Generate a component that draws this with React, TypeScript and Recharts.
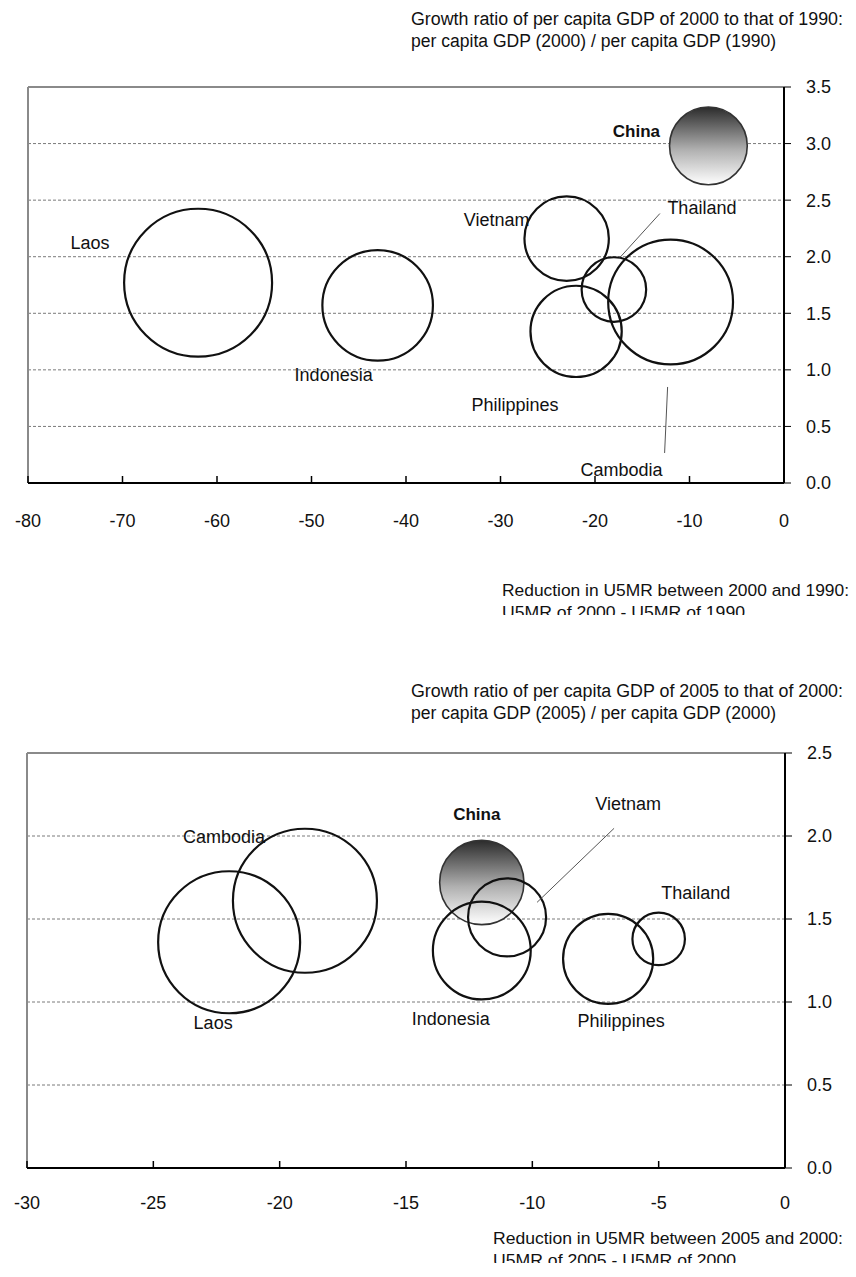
import React from 'react';
import {
  ScatterChart,
  Scatter,
  XAxis,
  YAxis,
  ZAxis,
  CartesianGrid,
  ReferenceLine,
} from 'recharts';

const FONT = "Arial, 'Liberation Sans', sans-serif";

const countries = ['China', 'Laos', 'Indonesia', 'Vietnam', 'Thailand', 'Cambodia', 'Philippines'];

// 1990 -> 2000
const u5mrChange90 = [-8, -62, -43, -23, -18, -12, -22];
const gdpRatio90 = [2.98, 1.77, 1.57, 2.16, 1.71, 1.6, 1.34];
const bubbleSize90 = [45, 163, 91, 53, 31, 116, 62];

// 2000 -> 2005
const u5mrChange00 = [-12, -22, -12, -11, -5, -19, -7];
const gdpRatio00 = [1.72, 1.36, 1.31, 1.51, 1.38, 1.61, 1.26];
const bubbleSize00 = [49, 139, 66, 42, 19, 143, 56];

const xTicks90 = [-80, -70, -60, -50, -40, -30, -20, -10, 0];
const yTicks90 = [0, 0.5, 1, 1.5, 2, 2.5, 3, 3.5];
const xTicks00 = [-30, -25, -20, -15, -10, -5, 0];
const yTicks00 = [0, 0.5, 1, 1.5, 2, 2.5];

const toPoints = (xs: number[], ys: number[], zs: number[]) =>
  countries.map((name, i) => ({ name, x: xs[i], y: ys[i], z: zs[i] }));

const data90 = toPoints(u5mrChange90, gdpRatio90, bubbleSize90);
const data00 = toPoints(u5mrChange00, gdpRatio00, bubbleSize00);

type Spot = { dx: number; dy: number; line?: [number, number, number, number] };

// label placement relative to bubble centre (px)
const spots90: Record<string, Spot> = {
  China: { dx: -72, dy: -14 },
  Laos: { dx: -108, dy: -40 },
  Indonesia: { dx: -44, dy: 70 },
  Vietnam: { dx: -70, dy: -19 },
  Thailand: { dx: 88, dy: -82, line: [46, -76, 6, -32] },
  Cambodia: { dx: -49, dy: 168, line: [-3, 85, -6, 151] },
  Philippines: { dx: -61, dy: 74 },
};

const spots00: Record<string, Spot> = {
  China: { dx: -5, dy: -68 },
  Laos: { dx: -16, dy: 81 },
  Indonesia: { dx: -31, dy: 68 },
  Vietnam: { dx: 121, dy: -113, line: [107, -89, 30, -15] },
  Thailand: { dx: 37, dy: -46 },
  Cambodia: { dx: -81, dy: -64 },
  Philippines: { dx: 13, dy: 62 },
};

const makeBubble = (gradId: string) => (props: any) => {
  const { cx, cy, width, payload } = props;
  const r = width / 2;
  if (payload.name === 'China') {
    return (
      <g>
        <defs>
          <linearGradient id={gradId} x1="0" y1="0" x2="0" y2="1">
            <stop offset="0%" stopColor="#2b2b2b" />
            <stop offset="55%" stopColor="#b0b0b0" />
            <stop offset="100%" stopColor="#ffffff" />
          </linearGradient>
        </defs>
        <circle cx={cx} cy={cy} r={r} fill={`url(#${gradId})`} stroke="#333" strokeWidth={1.6} />
      </g>
    );
  }
  return <circle cx={cx} cy={cy} r={r} fill="none" stroke="#111" strokeWidth={2.2} />;
};

const makeLabel = (spots: Record<string, Spot>) => (props: any) => {
  const { cx, cy, payload } = props;
  const s = spots[payload.name];
  const bold = payload.name === 'China';
  return (
    <g>
      {s.line && (
        <line
          x1={cx + s.line[0]}
          y1={cy + s.line[1]}
          x2={cx + s.line[2]}
          y2={cy + s.line[3]}
          stroke="#555"
          strokeWidth={1}
        />
      )}
      <text
        x={cx + s.dx}
        y={cy + s.dy}
        textAnchor="middle"
        dominantBaseline="central"
        fontFamily={FONT}
        fontSize={bold ? 17 : 18}
        fontWeight={bold ? 'bold' : 'normal'}
        fill="#111"
      >
        {payload.name}
      </text>
    </g>
  );
};

const makeXTick = (labelDy: number) => (props: any) => {
  const { x, y, payload } = props;
  return (
    <g>
      <line x1={x} y1={y} x2={x} y2={y - 7} stroke="#000" strokeWidth={1.5} />
      <text x={x} y={y + labelDy} textAnchor="middle" fontFamily={FONT} fontSize={18} fill="#111">
        {payload.value}
      </text>
    </g>
  );
};

interface BubblePanelProps {
  data: typeof data90;
  xTicks: number[];
  yTicks: number[];
  height: number;
  margin: { top: number; right: number; bottom: number; left: number };
  yWidth: number;
  zRange: [number, number];
  spots: Record<string, Spot>;
  gradId: string;
  labelDy: number;
}

const BubblePanel = ({
  data,
  xTicks,
  yTicks,
  height,
  margin,
  yWidth,
  zRange,
  spots,
  gradId,
  labelDy,
}: BubblePanelProps) => {
  const xMin = xTicks[0];
  const xMax = xTicks[xTicks.length - 1];
  const yMax = yTicks[yTicks.length - 1];
  return (
    <ScatterChart width={856} height={height} margin={margin}>
      <CartesianGrid vertical={false} strokeDasharray="3 2" stroke="#7a7a7a" />
      <ReferenceLine x={xMin} stroke="#8a8a8a" strokeWidth={2} />
      <ReferenceLine y={yMax} stroke="#8a8a8a" strokeWidth={2} />
      <XAxis
        type="number"
        dataKey="x"
        domain={[xMin, xMax]}
        ticks={xTicks}
        interval={0}
        height={60}
        tickSize={0}
        tickMargin={0}
        tickLine={false}
        axisLine={{ stroke: '#000', strokeWidth: 2 }}
        tick={makeXTick(labelDy)}
      />
      <YAxis
        type="number"
        dataKey="y"
        orientation="right"
        domain={[0, yMax]}
        ticks={yTicks}
        interval={0}
        width={yWidth}
        tickSize={7}
        tickMargin={15}
        tickFormatter={(v: number) => v.toFixed(1)}
        tick={{ fontSize: 18, fill: '#111', fontFamily: FONT }}
        tickLine={{ stroke: '#000' }}
        axisLine={{ stroke: '#000', strokeWidth: 2 }}
      />
      <ZAxis type="number" dataKey="z" domain={[0, 200]} range={zRange} />
      <Scatter data={data} shape={makeBubble(gradId)} isAnimationActive={false} />
      <Scatter data={data} shape={makeLabel(spots)} isAnimationActive={false} />
    </ScatterChart>
  );
};

const textStyle = { fontFamily: FONT, fontSize: 18, fill: '#111' };
const xTitleStyle = { fontFamily: FONT, fontSize: 17.4, fill: '#111' };

const App = () => {
  return (
    <div
      style={{
        position: 'absolute',
        left: 0,
        top: 0,
        width: 856,
        height: 1277,
        background: '#fff',
        overflow: 'hidden',
      }}
    >
      <div style={{ position: 'absolute', left: 0, top: 0 }}>
        <BubblePanel
          data={data90}
          xTicks={xTicks90}
          yTicks={yTicks90}
          height={640}
          margin={{ top: 87, right: 0, bottom: 97, left: 28 }}
          yWidth={72}
          zRange={[0, 21100]}
          spots={spots90}
          gradId="chinaGrad90"
          labelDy={44}
        />
      </div>
      <div style={{ position: 'absolute', left: 0, top: 640 }}>
        <BubblePanel
          data={data00}
          xTicks={xTicks00}
          yTicks={yTicks00}
          height={637}
          margin={{ top: 113, right: 0, bottom: 49, left: 27 }}
          yWidth={71}
          zRange={[0, 22780]}
          spots={spots00}
          gradId="chinaGrad00"
          labelDy={41}
        />
      </div>
      <svg
        width={856}
        height={1277}
        style={{ position: 'absolute', left: 0, top: 0, pointerEvents: 'none' }}
      >
        <defs>
          <clipPath id="clipX90">
            <rect x={0} y={602} width={856} height={13} />
          </clipPath>
          <clipPath id="clipX00">
            <rect x={0} y={1250} width={856} height={13} />
          </clipPath>
        </defs>
        <text x={411} y={25} {...textStyle} textLength={432} lengthAdjust="spacingAndGlyphs">
          Growth ratio of per capita GDP of 2000 to that of 1990:
        </text>
        <text x={411} y={47} {...textStyle} textLength={365} lengthAdjust="spacingAndGlyphs">
          per capita GDP (2000) / per capita GDP (1990)
        </text>
        <text x={502} y={596} {...xTitleStyle} textLength={347} lengthAdjust="spacingAndGlyphs">
          Reduction in U5MR between 2000 and 1990:
        </text>
        <g clipPath="url(#clipX90)">
          <text x={502} y={618} {...xTitleStyle} textLength={243} lengthAdjust="spacingAndGlyphs">
            U5MR of 2000 - U5MR of 1990
          </text>
        </g>
        <text x={411} y={697} {...textStyle} textLength={432} lengthAdjust="spacingAndGlyphs">
          Growth ratio of per capita GDP of 2005 to that of 2000:
        </text>
        <text x={411} y={719} {...textStyle} textLength={365} lengthAdjust="spacingAndGlyphs">
          per capita GDP (2005) / per capita GDP (2000)
        </text>
        <text x={493} y={1244} {...xTitleStyle} textLength={350} lengthAdjust="spacingAndGlyphs">
          Reduction in U5MR between 2005 and 2000:
        </text>
        <g clipPath="url(#clipX00)">
          <text x={493} y={1266} {...xTitleStyle} textLength={243} lengthAdjust="spacingAndGlyphs">
            U5MR of 2005 - U5MR of 2000
          </text>
        </g>
      </svg>
    </div>
  );
};

export default App;
